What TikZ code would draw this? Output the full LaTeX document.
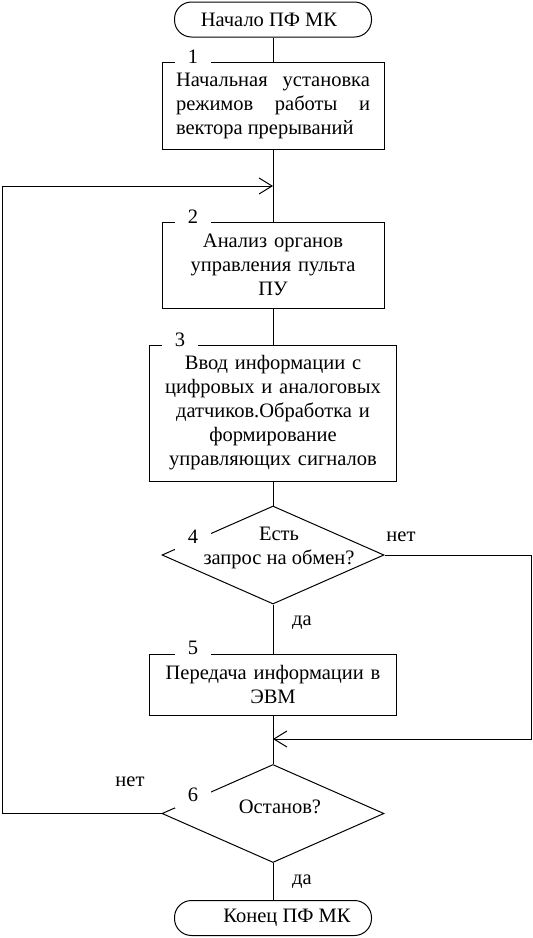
\documentclass[tikz,border=0pt]{standalone}
\usepackage{fontspec}
\setmainfont{Liberation Serif}
\usetikzlibrary{arrows.meta,shapes.geometric}
\begin{document}
\begin{tikzpicture}[x=1pt,y=-1pt,
  every node/.style={font=\fontsize{20.5}{24}\selectfont, inner sep=0pt},
  proc/.style={draw, line width=1pt, rectangle},
  term/.style={draw, line width=1pt, rectangle, rounded corners=17pt, minimum width=197pt, minimum height=35pt},
  dec/.style={draw, line width=1pt, diamond, minimum width=222pt, minimum height=98pt},
  num/.style={fill=white, minimum width=36pt, minimum height=26pt},
  conn/.style={line width=1pt},
  arr/.style={line width=1pt, -{Straight Barb[length=13pt,width=16pt]}}
]
\useasboundingbox (0,0) rectangle (533,938);

% blocks
\node[term] (start) at (273,19.5) {\hspace*{-8pt}Начало ПФ МК};
\node[proc, minimum width=222pt, minimum height=87pt, text width=194pt, align=justify] (b1) at (273,105.5)
  {Начальная установка\linebreak режимов работы и\linebreak вектора прерываний};
\node[proc, minimum width=222pt, minimum height=86pt, text width=210pt, align=center] (b2) at (273,265)
  {Анализ органов\\управления пульта\\ПУ};
\node[proc, minimum width=247pt, minimum height=136pt, text width=240pt, align=center] (b3) at (273,413)
  {Ввод информации с\\цифровых и аналоговых\\датчиков.Обработка и\\формирование\\управляющих сигналов};
\node[dec] (d4) at (273,555) {};
\node[align=center] (t4) at (279,548) {Есть\\запрос на обмен?};
\node[proc, minimum width=247pt, minimum height=61pt, text width=240pt, align=center] (b5) at (273,684.5)
  {Передача информации в\\ЭВМ};
\node[dec] (d6) at (273,813.5) {};
\node (t6) at (280,807) {Останов?};
\node[term] (end) at (273,918) {\hspace*{28pt}Конец ПФ МК};

% junctions
\coordinate (j1) at (273,186);
\coordinate (j2) at (273,739);

% connectors
\draw[conn] (start) -- (b1);
\draw[conn] (b1) -- (b2);
\draw[conn] (b2) -- (b3);
\draw[conn] (b3) -- (d4);
\draw[conn] (d4) -- (b5);
\draw[conn] (b5) -- (d6);
\draw[conn] (d6) -- (end);
\draw[arr] (d4.east) -- (531,555) -- (531,739) -- (j2);
\draw[arr] (d6.west) -- (2,813.5) -- (2,186) -- (j1);

% branch labels
\node (n4) at (401,537) {нет};
\node (y4) at (302,623) {да};
\node (n6) at (130,782) {нет};
\node (y6) at (302,882) {да};

% block numbers
\node[num] (l1) at (193,57) {1};
\node[num] (l2) at (193,217) {2};
\node[num] (l3) at (180,340) {3};
\node[num] (l4) at (193,537) {4};
\node[num] (l5) at (193,648) {5};
\node[num] (l6) at (193,795) {6};
\end{tikzpicture}
\end{document}
